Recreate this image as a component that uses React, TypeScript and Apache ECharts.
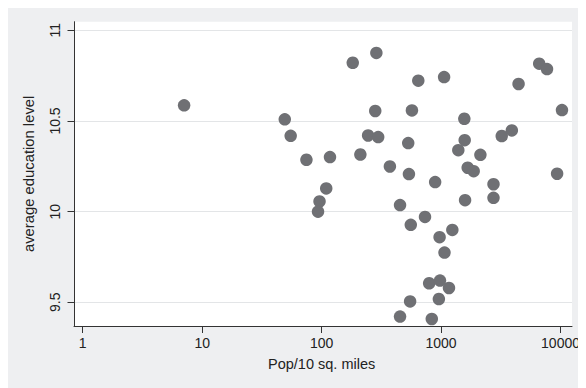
import React, { useEffect, useRef } from "react";
import * as echarts from "echarts";

// Pop/10 sq. miles (x) and average education level (y)
const popDensity: number[] = [
  7.0, 48.3, 54.1, 73.2, 115, 107, 94.1, 91.4, 178, 280,
  206, 239, 290, 274, 363, 441, 516, 523, 554, 626,
  542, 712, 865, 1027, 942, 1203, 1035, 771, 949, 1128,
  929, 535, 441, 811, 1349, 1514, 1525, 1615, 1812, 2061,
  1536, 2650, 2650, 3104, 3767, 4287, 6370, 7400, 9860, 8980,
];
const educationLevel: number[] = [
  10.586, 10.509, 10.418, 10.286, 10.301, 10.128, 10.056, 10.0, 10.821, 10.875,
  10.315, 10.42, 10.411, 10.555, 10.249, 10.036, 10.378, 10.207, 10.558, 10.722,
  9.927, 9.971, 10.163, 10.742, 9.859, 9.899, 9.774, 9.605, 9.62, 9.579,
  9.518, 9.505, 9.421, 9.408, 10.339, 10.512, 10.394, 10.242, 10.223, 10.313,
  10.063, 10.151, 10.076, 10.417, 10.448, 10.704, 10.816, 10.786, 10.56, 10.209,
];
const yTicks: number[] = [9.5, 10, 10.5, 11];
const xTicks: number[] = [1, 10, 100, 1000, 10000];

const xTitle = "Pop/10 sq. miles";
const yTitle = "average education level";

export default function App() {
  const ref = useRef<HTMLDivElement>(null);
  useEffect(() => {
    document.body.style.overflow = "hidden";
    if (!ref.current) return;
    const chart = echarts.init(ref.current, undefined, { renderer: "svg" });
    const font = "Liberation Sans, Arial, Helvetica, sans-serif";
    const textColor = "#222";
    const lineColor = "#333";
    const points = popDensity.map((x, i) => [x, educationLevel[i]]);

    chart.setOption({
      animation: false,
      backgroundColor: "#eeeff1",
      textStyle: { fontFamily: font },
      grid: [
        // data grid (plot region)
        { left: 66, right: 11, top: 13.7, bottom: 62, show: true, backgroundColor: "#ffffff", borderWidth: 0 },
        // y tick / grid-line grid
        { left: 66, right: 11, top: 22.3, bottom: 85.7 },
        // x tick grid
        { left: 74.7, right: 20.3, top: 13.7, bottom: 62 },
      ],
      xAxis: [
        {
          gridIndex: 0,
          type: "log",
          logBase: 10,
          min: 0.8464,
          max: 11951,
          axisLine: { show: true, onZero: false, lineStyle: { color: lineColor, width: 1 } },
          axisTick: { show: false },
          axisLabel: { show: false },
          splitLine: { show: false },
        },
        { gridIndex: 1, type: "value", show: false },
        {
          gridIndex: 2,
          type: "log",
          logBase: 10,
          min: xTicks[0],
          max: xTicks[xTicks.length - 1],
          axisLine: { show: false },
          axisTick: { show: true, length: 7, lineStyle: { color: lineColor, width: 1 } },
          axisLabel: {
            show: true,
            margin: 10,
            fontSize: 14,
            color: textColor,
            fontFamily: font,
            formatter: (v: number) => String(Math.round(v)),
          },
          splitLine: { show: false },
          name: xTitle,
          nameLocation: "middle",
          nameGap: 30,
          nameTextStyle: { fontSize: 14.5, color: textColor, fontFamily: font },
        },
      ],
      yAxis: [
        {
          gridIndex: 0,
          type: "value",
          min: 9.3693,
          max: 11.0474,
          axisLine: { show: true, onZero: false, lineStyle: { color: lineColor, width: 1 } },
          axisTick: { show: false },
          axisLabel: { show: false },
          splitLine: { show: false },
          name: yTitle,
          nameLocation: "middle",
          nameGap: 38,
          nameRotate: 90,
          nameTextStyle: { fontSize: 14.8, color: textColor, fontFamily: font },
        },
        {
          gridIndex: 1,
          type: "value",
          min: yTicks[0],
          max: yTicks[yTicks.length - 1],
          interval: 0.5,
          axisLine: { show: false },
          axisTick: { show: true, length: 6.5, lineStyle: { color: lineColor, width: 1 } },
          axisLabel: { show: true, rotate: 90, margin: 12, fontSize: 14, color: textColor, fontFamily: font },
          splitLine: { show: true, lineStyle: { color: "#e3e5e7", width: 1.2 } },
        },
        { gridIndex: 2, type: "value", show: false },
      ],
      series: [
        {
          type: "scatter",
          xAxisIndex: 0,
          yAxisIndex: 0,
          data: points,
          symbol: "circle",
          symbolSize: 12.5,
          itemStyle: { color: "#6f7074", opacity: 1 },
          z: 3,
        },
      ],
    });
    return () => chart.dispose();
  }, []);
  return <div ref={ref} style={{ width: 575, height: 380 }} />;
}
